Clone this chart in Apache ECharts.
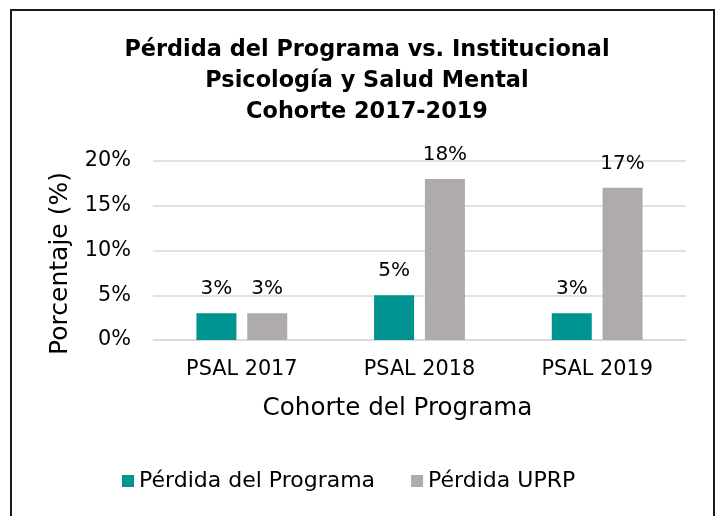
<!DOCTYPE html>
<html>
<head>
<meta charset="utf-8">
<script src="https://cdn.jsdelivr.net/npm/echarts@6/dist/echarts.min.js"></script>
<style>html,body{margin:0;padding:0;background:#fff}#c{width:715px;height:516px}</style>
</head>
<body>
<div id="c"></div>
<script>
var categories = ['PSAL 2017', 'PSAL 2018', 'PSAL 2019'];
var programLoss = [3, 5, 3];
var uprpLoss = [3, 18, 17];
var yTicks = [0, 5, 10, 15, 20];
var seriesNames = ['Pérdida del Programa', 'Pérdida UPRP'];
var titleText = 'Pérdida del Programa vs. Institucional\nPsicología y Salud Mental\nCohorte 2017-2019';

var FONT = 'DejaVu Sans';
var chart = echarts.init(document.getElementById('c'));
chart.setOption({
  backgroundColor: '#fff',
  animation: false,
  title: {
    text: titleText,
    left: 362, top: 30, textAlign: 'center',
    textStyle: { fontFamily: FONT, fontWeight: 'bold', fontSize: 22.4, lineHeight: 31, color: '#000' }
  },
  graphic: [{
    type: 'rect', shape: { x: 11, y: 10, width: 703, height: 530 },
    style: { fill: 'none', stroke: '#1a1a1a', lineWidth: 2 }, silent: true
  }],
  legend: {
    data: seriesNames, bottom: 19, left: 117,
    icon: 'rect', itemWidth: 12, itemHeight: 12, itemGap: 36,
    textStyle: { fontFamily: FONT, fontSize: 22, color: '#000' }
  },
  grid: { left: 153, right: 29, top: 161, bottom: 176 },
  xAxis: {
    type: 'category', data: categories,
    axisLine: { lineStyle: { color: '#d9d9d9', width: 1.5 } },
    axisTick: { show: false },
    axisLabel: { fontFamily: FONT, fontSize: 20.8, color: '#000', margin: 19 },
    name: 'Cohorte del Programa', nameLocation: 'middle', nameGap: 56,
    nameTextStyle: { fontFamily: FONT, fontSize: 24.6, color: '#000', padding: [0, 44, 0, 0] }
  },
  yAxis: {
    type: 'value', min: yTicks[0], max: yTicks[yTicks.length - 1], interval: 5,
    axisLabel: { formatter: '{value}%', fontFamily: FONT, fontSize: 20.8, color: '#000', margin: 22 },
    splitLine: { lineStyle: { color: '#d9d9d9', width: 1.5 } },
    axisLine: { show: false }, axisTick: { show: false },
    name: 'Porcentaje (%)', nameLocation: 'middle', nameGap: 80, nameRotate: 90,
    nameTextStyle: { fontFamily: FONT, fontSize: 25, color: '#000', padding: [0, 26, 0, 0] }
  },
  series: [{
    name: seriesNames[0], type: 'bar', data: programLoss, barWidth: 40, barGap: '27%',
    itemStyle: { color: '#009490' },
    label: { show: true, position: 'top', distance: 14, formatter: '{c}%', fontFamily: FONT, fontSize: 20, color: '#000' }
  }, {
    name: seriesNames[1], type: 'bar', data: uprpLoss, barWidth: 40,
    itemStyle: { color: '#AFABAB' },
    label: { show: true, position: 'top', distance: 14, formatter: '{c}%', fontFamily: FONT, fontSize: 20, color: '#000' }
  }]
});
</script>
</body>
</html>
